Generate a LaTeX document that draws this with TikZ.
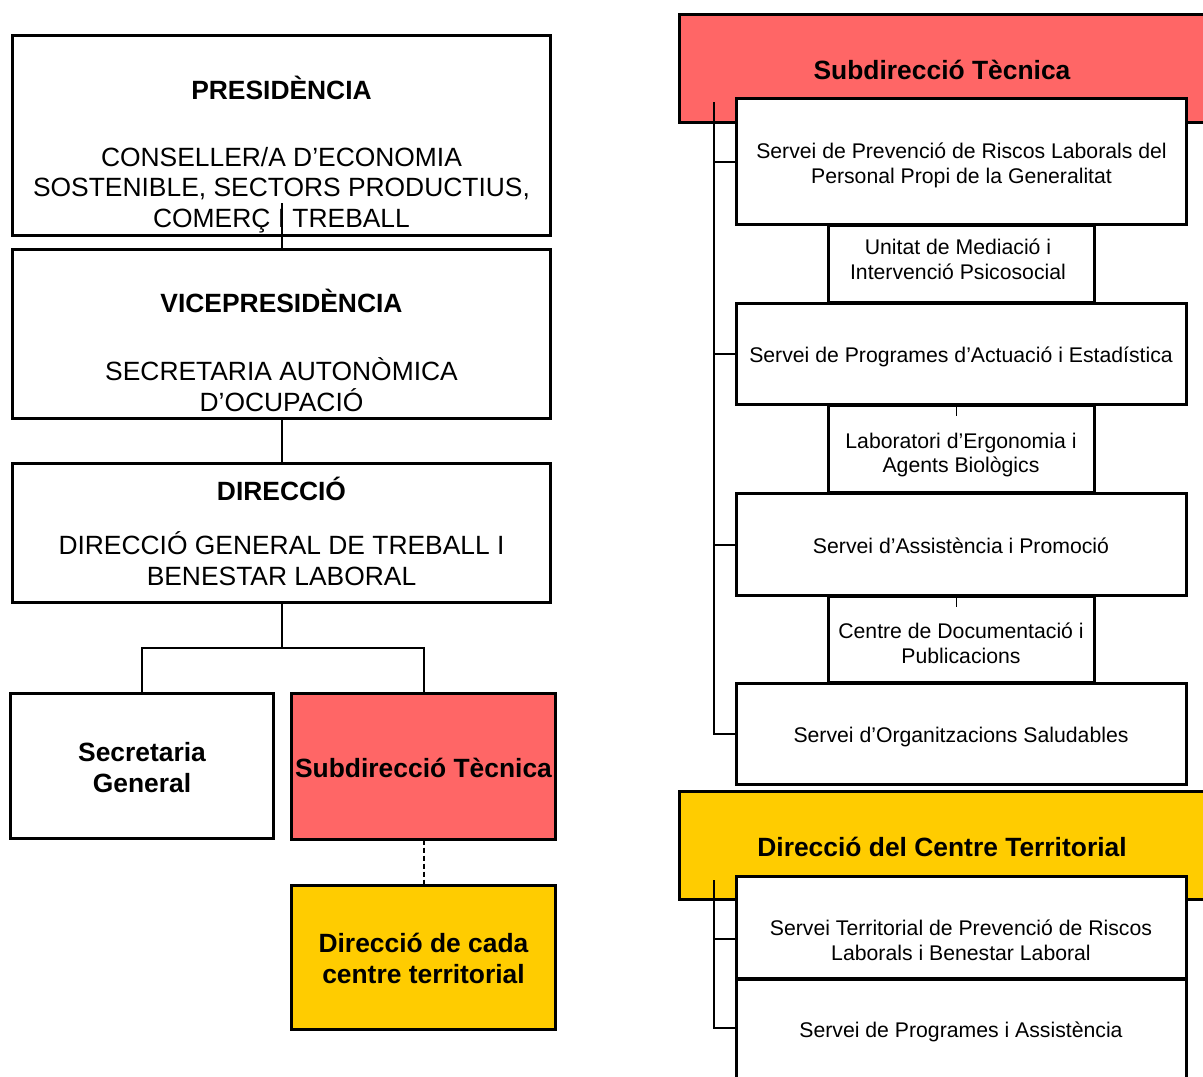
\documentclass[tikz,border=0pt]{standalone}
\usepackage{fontspec}
\setmainfont{Liberation Sans}
\definecolor{subred}{HTML}{FF6666}
\definecolor{teryel}{HTML}{FFCC00}
\begin{document}
\begin{tikzpicture}[x=1bp,y=-1bp,
  box/.style={draw, line width=3bp, fill=white, inner sep=0pt, outer sep=0pt},
  conn/.style={line width=2bp},
  stub/.style={line width=1bp},
  big/.style={font=\fontsize{26.5}{30.5}\selectfont, align=center, inner sep=0pt},
  bigb/.style={font=\fontsize{26.5}{30.5}\selectfont\bfseries, align=center, inner sep=0pt},
  small/.style={font=\fontsize{21.3}{25}\selectfont, align=center, inner sep=0pt}]
\useasboundingbox (0,0) rectangle (1203,1077);
% ---------------- left column ----------------
\node[box, minimum width=541, minimum height=201] (pres) at (281.5,135.5) {};
\node[box, minimum width=541, minimum height=170] (vice) at (281.5,334) {};
\node[box, minimum width=541, minimum height=140] (dir) at (281.5,533) {};
\node[box, minimum width=264, minimum height=146] (secgen) at (142,766) {};
\node[box, fill=subred, minimum width=265, minimum height=147] (subt) at (423.5,766.5) {};
\node[box, fill=teryel, minimum width=265, minimum height=145] (dircada) at (423.5,957.5) {};

\node[bigb] (presT) at (281.5,88) {PRESIDÈNCIA};
\node[big] (presS) at (281.5,190) {CONSELLER/A D’ECONOMIA\\SOSTENIBLE, SECTORS PRODUCTIUS,\\COMERÇ I TREBALL};
\node[bigb] (viceT) at (281.5,301) {VICEPRESIDÈNCIA};
\node[big] (viceS) at (281.5,384.5) {SECRETARIA AUTONÒMICA\\D’OCUPACIÓ};
\node[bigb] (dirT) at (281.5,489) {DIRECCIÓ};
\node[big] (dirS) at (281.5,558.5) {DIRECCIÓ GENERAL DE TREBALL I\\BENESTAR LABORAL};
\node[bigb] (secgenT) at (142,767.5) {Secretaria\\General};
\node[bigb] (subtT) at (423.5,768) {Subdirecció Tècnica};
\node[bigb] (dircadaT) at (423.5,958.5) {Direcció de cada\\centre territorial};

\coordinate (presstub) at (281.5,203);
\coordinate (split) at (281.5,648);
\draw[conn] (presstub) -- (vice.north);
\draw[conn] (vice.south) -- (dir.north);
\draw[conn] (dir.south) -- (split);
\draw[conn] (secgen.north) |- (split) -| (subt.north);
\draw[line width=2bp, dash pattern=on 5bp off 3bp] (subt.south) -- (dircada.north);

% ---------------- right column ----------------
\node[box, fill=subred, minimum width=537, minimum height=109] (hsub) at (946.5,68.5) {};
\node[bigb] (hsubT) at (942,70) {Subdirecció Tècnica};
\node[box, fill=teryel, minimum width=537, minimum height=109] (hter) at (946.5,845.5) {};
\node[bigb] (hterT) at (942,847) {Direcció del Centre Territorial};

\node[box, minimum width=267, minimum height=78] (unitat) at (961.5,264) {};
\node[box, minimum width=267, minimum height=88] (lab) at (961.5,449) {};
\node[box, minimum width=267, minimum height=87] (centre) at (961.5,639.5) {};

\node[box, minimum width=451, minimum height=127] (b1) at (961.5,161.5) {};
\node[box, minimum width=451, minimum height=102] (b2) at (961.5,354) {};
\node[box, minimum width=451, minimum height=103] (b3) at (961.5,544.5) {};
\node[box, minimum width=451, minimum height=102] (b4) at (961.5,734) {};
\node[box, minimum width=451, minimum height=103] (b5) at (961.5,927.5) {};
\node[box, minimum width=451, minimum height=111] (b6) at (961.5,1034.5) {};

\node[small] (b1T) at (961.5,165) {Servei de Prevenció de Riscos Laborals del\\Personal Propi de la Generalitat};
\node[small] (unitatT) at (958,259.5) {Unitat de Mediació i\\Intervenció Psicosocial};
\node[small] (b2T) at (961,357) {Servei de Programes d’Actuació i Estadística};
\node[small] (labT) at (961,455) {Laboratori d’Ergonomia i\\Agents Biològics};
\node[small] (b3T) at (961,545.5) {Servei d’Assistència i Promoció};
\node[small] (centreT) at (961,643) {Centre de Documentació i\\Publicacions};
\node[small] (b4T) at (961,737) {Servei d’Organitzacions Saludables};
\node[small] (b5T) at (961,940) {Servei Territorial de Prevenció de Riscos\\Laborals i Benestar Laboral};
\node[small] (b6T) at (961,1032) {Servei de Programes i Assistència};

% connectors
\coordinate (vtop) at (714,102);
\draw[conn] (vtop) |- (b4.west);
\draw[conn] (vtop |- b1.west) -- (b1.west);
\draw[conn] (vtop |- b2.west) -- (b2.west);
\draw[conn] (vtop |- b3.west) -- (b3.west);
\coordinate (vtop2) at (714,880);
\coordinate (t5) at (714,939);
\coordinate (t6) at (714,1028);
\draw[conn] (vtop2) -- (t6) -- (t6 -| b6.west);
\draw[conn] (t5) -- (t5 -| b5.west);
\coordinate (s2) at (956,405);
\coordinate (s3) at (956,596);
\draw[stub] (s2) -- ++(0,11);
\draw[stub] (s3) -- ++(0,11);
\end{tikzpicture}
\end{document}
